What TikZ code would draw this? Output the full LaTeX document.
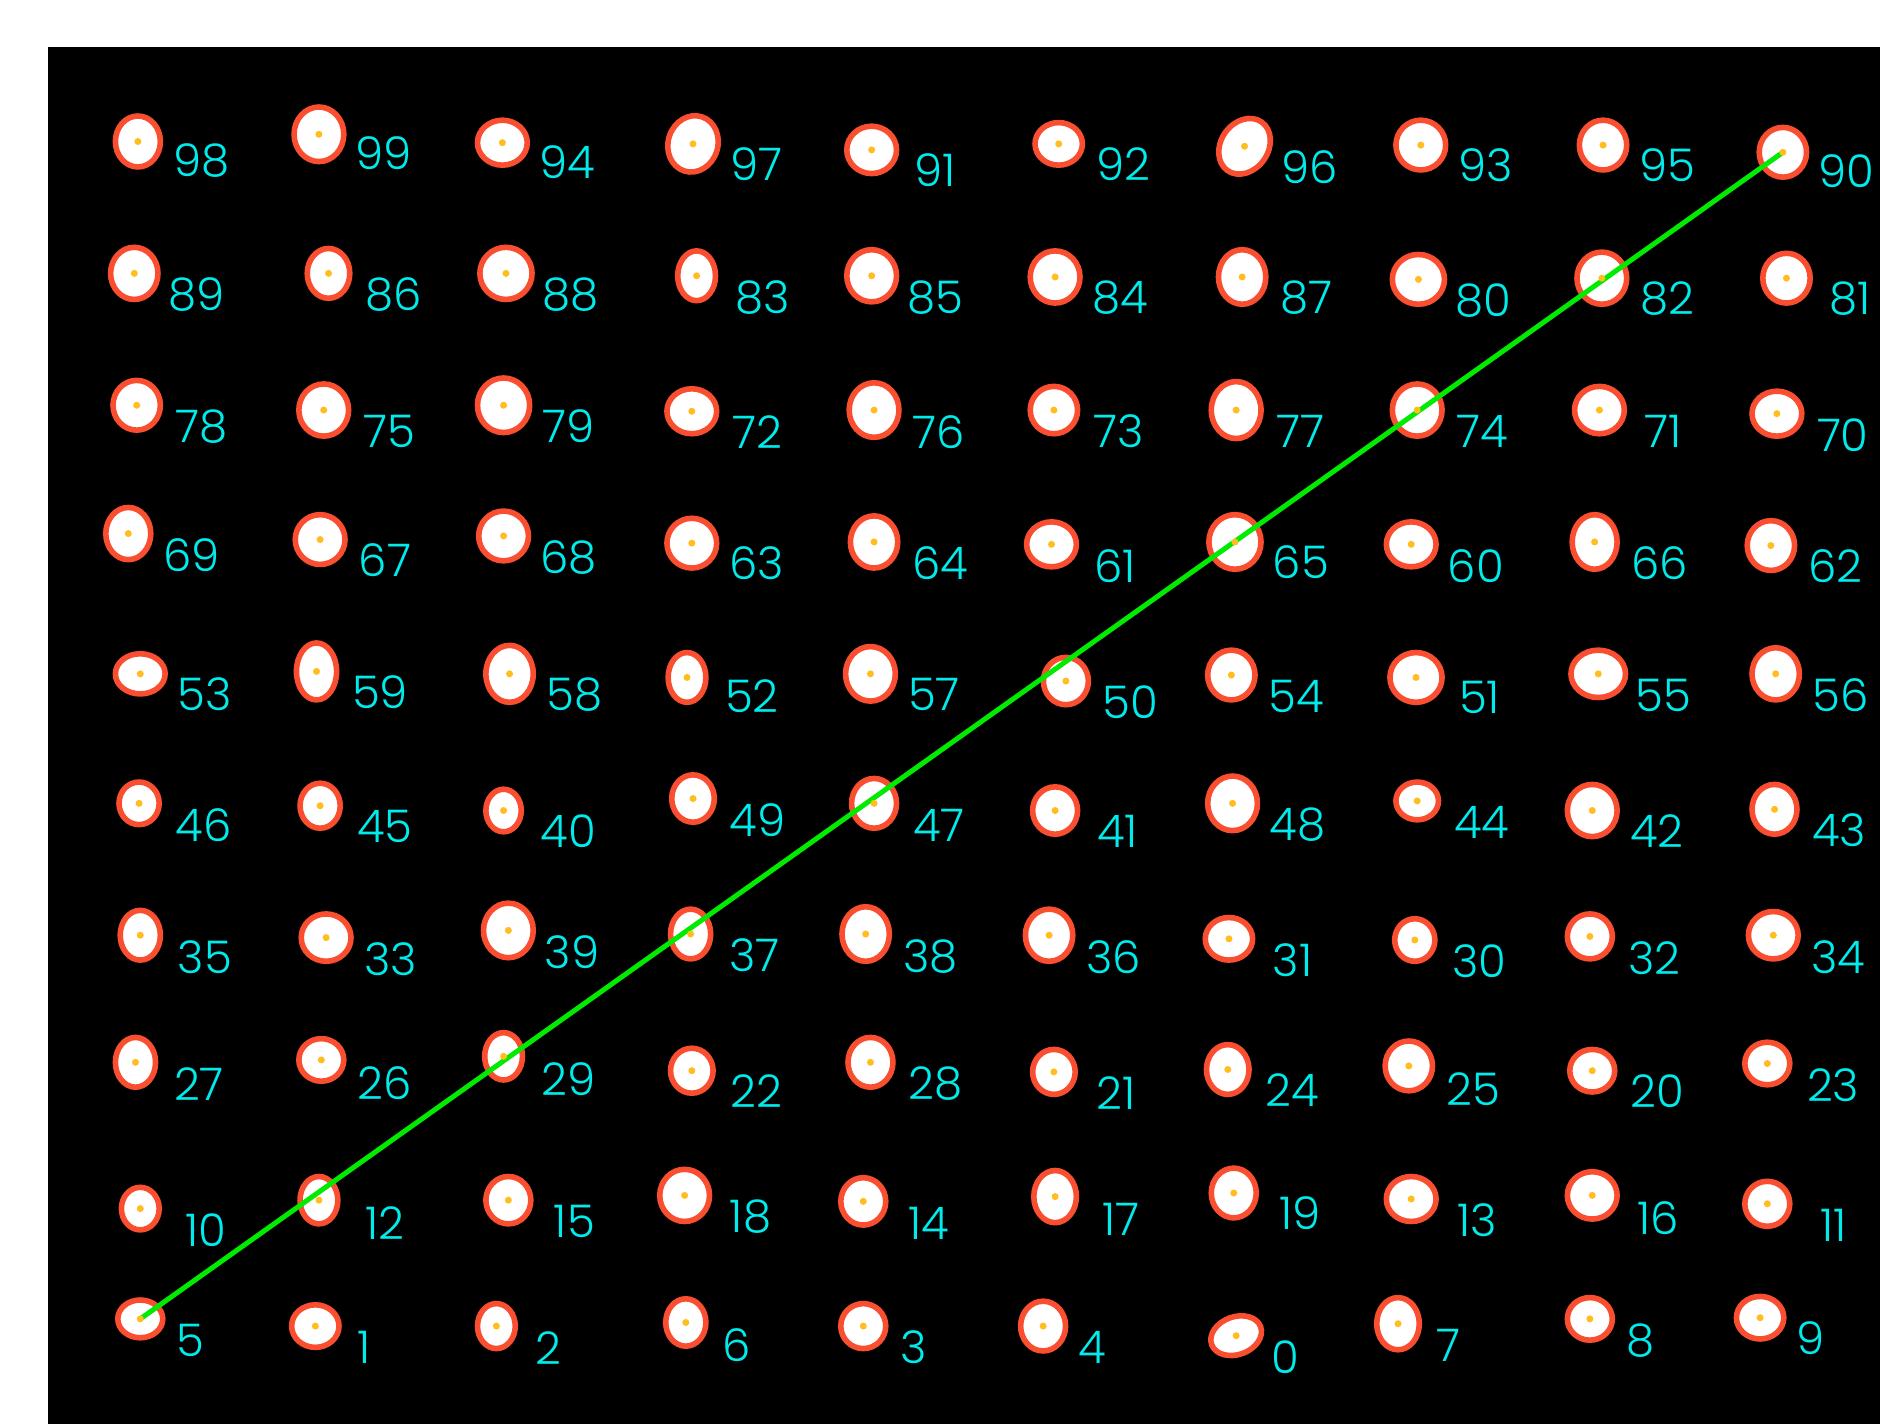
\documentclass[tikz,border=0pt]{standalone}
\usepackage{fontspec}
\setmainfont{Poppins}
\newfontfamily\lblfont{Poppins Light}
\usetikzlibrary{shapes.geometric}
\definecolor{rim}{RGB}{250,78,48}
\definecolor{dotc}{RGB}{255,190,30}
\definecolor{lab}{RGB}{0,235,235}
\definecolor{gline}{RGB}{0,235,0}
\tikzset{
  blob/.style={ellipse, draw=rim, fill=white, line width=2.8pt, inner sep=0pt},
  lbl/.style={text=lab, font=\lblfont\fontsize{22.5}{24}\selectfont, inner sep=0pt, anchor=center},
  ctr/.style={fill=dotc, circle, inner sep=0pt, minimum size=3.5pt},
  link/.style={draw=gline, line width=2.5pt}
}
\newcommand\bl[8][]{%
  \node[blob, minimum width={(#5-4.5)*0.5995pt}, minimum height={(#6-4.5)*0.5995pt}, #1] (b#2) at (#3,#4) {};
  \node[lbl] (t#2) at (#7,#8) {#2};
}
\begin{document}
\begin{tikzpicture}[x=0.5995pt,y=-0.5995pt]
\useasboundingbox (0,0) rectangle (1568,1188);
\fill[black] (40,39.2) rectangle (1568,1188);
% row 1
\bl{98}{115}{118}{42}{47}{168}{134}
\bl{99}{266}{112}{46}{50}{320}{128}
\bl{94}{419}{119}{46}{42}{473}{135}
\bl[rotate=-18]{97}{578}{120}{46}{52}{631}{137}
\bl{91}{727}{125}{46}{44}{780}{142}
\bl{92}{883}{120}{44}{40}{937}{137}
\bl[rotate=-35]{96}{1038}{122}{44}{54}{1092}{139}
\bl{93}{1185}{121}{46}{46}{1239}{138}
\bl{95}{1337}{121}{44}{46}{1391}{138}
\bl{90}{1487}{127}{44}{46}{1540}{143}
% row 2
\bl{89}{112}{228}{44}{48}{164}{246}
\bl{86}{274}{228}{40}{46}{328}{246}
\bl{88}{422}{228}{48}{48}{476}{246}
\bl{83}{581}{230}{36}{46}{636}{248}
\bl{85}{727}{230}{46}{48}{780}{248}
\bl{84}{880}{231}{46}{48}{934}{248}
\bl{87}{1036}{231}{44}{50}{1090}{248}
\bl{80}{1183}{233}{48}{46}{1237}{251}
\bl{82}{1336}{232}{46}{48}{1391}{249}
\bl{81}{1490}{232}{44}{46}{1543}{249}
% row 3
\bl{78}{114}{338}{44}{46}{168}{356}
\bl{75}{270}{342}{46}{48}{325}{360}
\bl{79}{420}{338}{48}{50}{474}{355}
\bl{72}{577}{343}{46}{42}{632}{360}
\bl{76}{729}{342}{46}{50}{783}{360}
\bl{73}{879}{342}{44}{44}{933}{360}
\bl{77}{1031}{342}{46}{52}{1085}{360}
\bl{74}{1182}{342}{46}{48}{1236}{360}
\bl{71}{1334}{342}{46}{44}{1387}{360}
\bl{70}{1482}{345}{46}{42}{1537}{363}
% row 4
\bl{69}{107}{445}{42}{48}{160}{463}
\bl{67}{267}{450}{46}{46}{321}{467}
\bl{68}{420}{447}{46}{46}{474}{465}
\bl{63}{577}{453}{46}{46}{631}{470}
\bl{64}{729}{452}{44}{48}{784}{470}
\bl{61}{877}{454}{46}{42}{930}{472}
\bl{65}{1030}{452}{48}{50}{1085}{469}
\bl{60}{1177}{454}{46}{42}{1231}{472}
\bl{66}{1330}{452}{42}{50}{1384}{470}
\bl{62}{1477}{455}{44}{46}{1531}{472}
% row 5
\bl{53}{117}{562}{46}{38}{171}{579}
\bl{59}{264}{560}{38}{52}{317}{577}
\bl{58}{425}{562}{44}{52}{479}{579}
\bl{52}{573}{565}{36}{46}{627}{581}
\bl{57}{726}{562}{46}{50}{779}{579}
\bl{50}{889}{568}{42}{44}{943}{586}
\bl{54}{1027}{563}{44}{46}{1081}{581}
\bl{51}{1181}{565}{48}{46}{1234}{582}
\bl{55}{1333}{562}{50}{44}{1387}{580}
\bl{56}{1481}{562}{44}{48}{1535}{580}
% row 6
\bl{46}{116}{670}{38}{40}{170}{688}
\bl{45}{267}{672}{38}{42}{321}{689}
\bl{40}{420}{676}{34}{40}{474}{693}
\bl{49}{578}{666}{40}{44}{632}{684}
\bl{47}{729}{670}{42}{46}{783}{688}
\bl{41}{880}{676}{42}{44}{932}{693}
\bl{48}{1028}{670}{46}{50}{1082}{688}
\bl{44}{1182}{668}{40}{36}{1236}{686}
\bl{42}{1328}{676}{46}{48}{1382}{693}
\bl{43}{1480}{675}{42}{46}{1534}{692}
% row 7
\bl{35}{117}{780}{38}{46}{171}{798}
\bl{33}{272}{782}{46}{44}{326}{800}
\bl{39}{424}{776}{46}{50}{477}{794}
\bl{37}{576}{779}{38}{46}{629}{797}
\bl{38}{722}{779}{44}{50}{776}{798}
\bl{36}{875}{780}{44}{48}{929}{798}
\bl{31}{1025}{783}{44}{40}{1078}{801}
\bl{30}{1180}{784}{38}{40}{1234}{802}
\bl{32}{1326}{781}{42}{42}{1380}{799}
\bl{34}{1479}{780}{46}{44}{1533}{798}
% row 8
\bl{27}{113}{886}{38}{46}{166}{904}
\bl{26}{268}{884}{42}{40}{321}{903}
\bl{29}{420}{881}{36}{44}{474}{900}
\bl{22}{577}{893}{40}{42}{631}{910}
\bl{28}{726}{886}{42}{46}{780}{904}
\bl{21}{879}{894}{40}{42}{931}{912}
\bl{24}{1024}{892}{40}{46}{1078}{909}
\bl{25}{1175}{889}{44}{46}{1229}{908}
\bl{20}{1328}{893}{42}{40}{1382}{910}
\bl{23}{1474}{887}{42}{40}{1529}{905}
% row 9
\bl{10}{117}{1008}{36}{40}{172}{1026}
\bl{12}{266}{1001}{36}{44}{321}{1020}
\bl{15}{424}{1001}{42}{44}{479}{1019}
\bl{18}{571}{997}{46}{48}{626}{1015}
\bl{14}{720}{1002}{42}{44}{775}{1020}
\bl{17}{880}{998}{40}{48}{935}{1017}
\bl{19}{1029}{995}{42}{46}{1084}{1012}
\bl{13}{1177}{1000}{46}{42}{1232}{1018}
\bl{16}{1328}{997}{46}{44}{1383}{1016}
\bl{11}{1474}{1004}{42}{42}{1529}{1022}
% row 10
\bl{5}{117}{1100}{42}{36}{159}{1118}
\bl{1}{263}{1106}{44}{40}{304}{1124}
\bl{2}{414}{1106}{36}{42}{457}{1124}
\bl{6}{572}{1103}{38}{44}{614}{1122}
\bl{3}{720}{1106}{42}{42}{762}{1124}
\bl{4}{870}{1106}{42}{46}{911}{1124}
\bl[rotate=20]{0}{1031}{1114}{48}{36}{1072}{1132}
\bl{7}{1166}{1104}{40}{48}{1208}{1122}
\bl{8}{1326}{1100}{42}{40}{1368}{1118}
\bl{9}{1468}{1099}{44}{40}{1510}{1116}
% connector
\draw[link] (b5.center) -- (b90.center);
% centre dots
\foreach \n in {0,...,99} {\node[ctr] at (b\n.center) {};}
\end{tikzpicture}
\end{document}
